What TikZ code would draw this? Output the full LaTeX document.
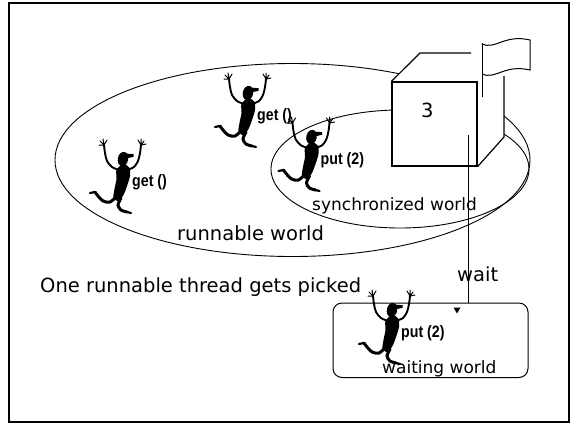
\documentclass[tikz,border=0pt]{standalone}
\usepackage{fontspec}
\setmainfont{DejaVu Sans}
\newfontfamily\callfont[FakeStretch=0.86]{Liberation Sans}
\usetikzlibrary{shapes.geometric}

\tikzset{
  pics/thread/.style={code={
    % head with cap
    \fill[rotate=-12] (0,0) ellipse [x radius=5.2, y radius=7.2];
    \fill (2,-5.5) -- (10.5,-4.8) -- (10.5,-2.2) -- (3,-0.5) -- cycle;
    % body
    \fill plot[smooth cycle] coordinates {(0,5) (6.5,9) (7,17) (4,27) (1,35) (-4,42) (-9.5,39) (-8.5,30) (-6.5,20) (-6.5,11)};
    % arms and hands
    \draw[line width=1.9pt, line cap=round] plot[smooth] coordinates {(-4,11) (-11,8) (-16,2) (-18,-6) (-19,-14)};
    \draw[line width=1.9pt, line cap=round] plot[smooth] coordinates {(4,11) (11,8) (15,2) (17,-6) (18,-14)};
    \draw[line width=1pt, line cap=round] (-19,-14) -- (-23,-18) (-19,-14) -- (-20,-20) (-19,-14) -- (-16,-19) (-19,-14) -- (-24,-14);
    \draw[line width=1pt, line cap=round] (18,-14) -- (15,-19) (18,-14) -- (18,-20) (18,-14) -- (21,-18) (18,-14) -- (23,-15);
    % legs
    \draw[line width=3pt, line cap=round] plot[smooth] coordinates {(-6,37) (-13,43) (-20,42) (-25,37) (-28,33)};
    \draw[line width=2.2pt, line cap=round] (-28,33) -- (-33,34);
    \draw[line width=3pt, line cap=round] plot[smooth] coordinates {(-2,39) (-5,46) (-2,51) (4,53)};
    \draw[line width=2.2pt, line cap=round] (4,53) -- (8,54);
    \coordinate (-tag) at (9,23);
  }}
}

\begin{document}
\begin{tikzpicture}[
    x=1pt, y=-1pt,
    world/.style={ellipse, draw, line width=0.9pt, inner sep=0pt},
    cube/.style={line width=1.2pt, line join=miter},
    caption/.style={anchor=base west, inner sep=0pt, font=\fontsize{19.5}{23}\selectfont},
    small/.style={anchor=base west, inner sep=0pt, font=\fontsize{17}{20}\selectfont},
    call/.style={anchor=west, inner sep=0pt, font=\callfont\bfseries\fontsize{16.5}{19}\selectfont}
  ]
  \useasboundingbox (0,0) rectangle (571,424);
  \draw[line width=2pt] (9,3) rectangle (569,422);

  \node[world, minimum width=475pt, minimum height=193pt] (runnable) at (292.5,160) {};
  \node[world, minimum width=258pt, minimum height=118pt] (sync) at (400,169) {};
  \node[caption] (runname) at (177,240) {runnable world};
  \node[small] (syncname) at (312,210) {synchronized world};

  \pic (t1) at (123,159) {thread};
  \node[call] (get1) at (t1-tag) {get ()};
  \pic (t2) at (248,93) {thread};
  \node[call] (get2) at (t2-tag) {get ()};
  \pic (t3) at (311.5,137) {thread};
  \node[call] (put1) at (t3-tag) {put (2)};

  % the monitor cube with its flag
  \fill[white] (392,166) -- (392,82) -- (420,53) -- (504,53) -- (504,137) -- (477,166) -- cycle;
  \node[draw, cube, minimum width=85pt, minimum height=84pt, inner sep=0pt] (monitor) at (434.5,124) {};
  \draw[cube] (monitor.north west) -- (420,53) -- (471,53);
  \draw[cube] (monitor.south east) -- (504,137) -- (504,76);
  \node[caption] (count) at (421,117) {3};
  \draw[line width=1pt] (482,43) -- (482,97);
  \draw[line width=1pt] (482,44) .. controls (496,50) and (504,34) .. (530,40) -- (530,70)
    .. controls (504,64) and (496,80) .. (482,74);

  \node[caption] (picked) at (40,292) {One runnable thread gets picked};

  \node[draw, line width=1pt, rounded corners=9pt, minimum width=195pt, minimum height=74.5pt] (waiting) at (430.5,340.25) {};
  \node[small] (waitname) at (382,373) {waiting world};
  \pic (t4) at (392,310) {thread};
  \node[call] (put2) at (t4-tag) {put (2)};

  \coordinate (lock) at (468,135);
  \draw[line width=0.9pt] (lock) -- (lock |- waiting.north);
  \fill (453.5,307.5) -- (460.5,307.5) -- (457,313.5) -- cycle;
  \node[caption] (waitlabel) at (457,281) {wait};
\end{tikzpicture}
\end{document}
